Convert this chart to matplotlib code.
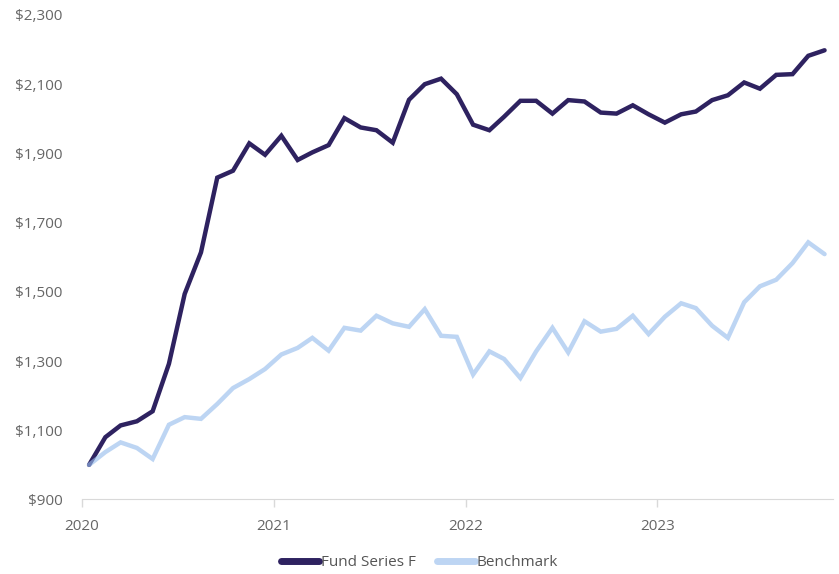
import matplotlib
matplotlib.use("Agg")
import matplotlib.pyplot as plt
import matplotlib.dates as mdates
import matplotlib.ticker as mticker
import pandas as pd

plt.rcParams['font.family'] = ['Open Sans', 'DejaVu Sans']

# monthly values, Jan 2020 .. Nov 2023 (plotted mid-month)
months = pd.date_range('2020-01-01', periods=47, freq='MS') + pd.Timedelta(days=14)

fund = [1000, 1080, 1114, 1126, 1155, 1292, 1494, 1614, 1830, 1850, 1929, 1896,
        1951, 1881, 1903, 1924, 2002, 1975, 1967, 1931, 2055, 2100, 2116, 2071,
        1983, 1967, 2006, 2052, 2052, 2015, 2054, 2050, 2018, 2015, 2039, 2013,
        1989, 2013, 2021, 2054, 2068, 2105, 2087, 2127, 2129, 2182, 2198]

bench = [1000, 1037, 1065, 1049, 1017, 1116, 1138, 1133, 1176, 1222, 1248, 1277,
         1319, 1338, 1367, 1330, 1396, 1388, 1431, 1409, 1399, 1450, 1373, 1370,
         1261, 1328, 1306, 1251, 1328, 1396, 1325, 1415, 1385, 1393, 1431, 1378,
         1428, 1467, 1453, 1402, 1367, 1470, 1516, 1535, 1583, 1643, 1609]

fig = plt.figure(figsize=(8.39, 5.74), dpi=100)
ax = fig.add_axes([0.0974, 0.1298, 0.8954, 0.8441])

ax.plot(months, fund, color='#2e2260', lw=3.2, label='Fund Series F',
        solid_capstyle='round', solid_joinstyle='miter')
ax.plot(months, bench, color='#97bded', alpha=0.63, lw=3.2, label='Benchmark',
        solid_capstyle='round', solid_joinstyle='miter')

ax.set_ylim(900, 2300)
ax.set_yticks(range(900, 2301, 200))
ax.yaxis.set_major_formatter(mticker.FuncFormatter(lambda v, p: '${:,.0f}'.format(v)))
ax.set_xlim(pd.Timestamp('2020-01-01'), pd.Timestamp('2023-12-01'))
ax.xaxis.set_major_locator(mdates.YearLocator())
ax.xaxis.set_major_formatter(mdates.DateFormatter('%Y'))

for s in ['top', 'right', 'left']:
    ax.spines[s].set_visible(False)
ax.spines['bottom'].set_color('#d9d9d9')
ax.tick_params(axis='y', length=0, pad=14, labelsize=11, labelcolor='#666666')
ax.tick_params(axis='x', length=6, width=1, color='#d9d9d9', pad=8,
               labelsize=11, labelcolor='#666666')

leg = fig.legend(loc='center', bbox_to_anchor=(0.5, 1 - 563 / 574), ncol=2,
                 frameon=False, fontsize=11, handlelength=2.5, handletextpad=0.1,
                 columnspacing=1.4, labelcolor='#555555')
for h in leg.get_lines():
    h.set_linewidth(5)
    h.set_solid_capstyle('round')

fig.savefig('out.png', dpi=100)
